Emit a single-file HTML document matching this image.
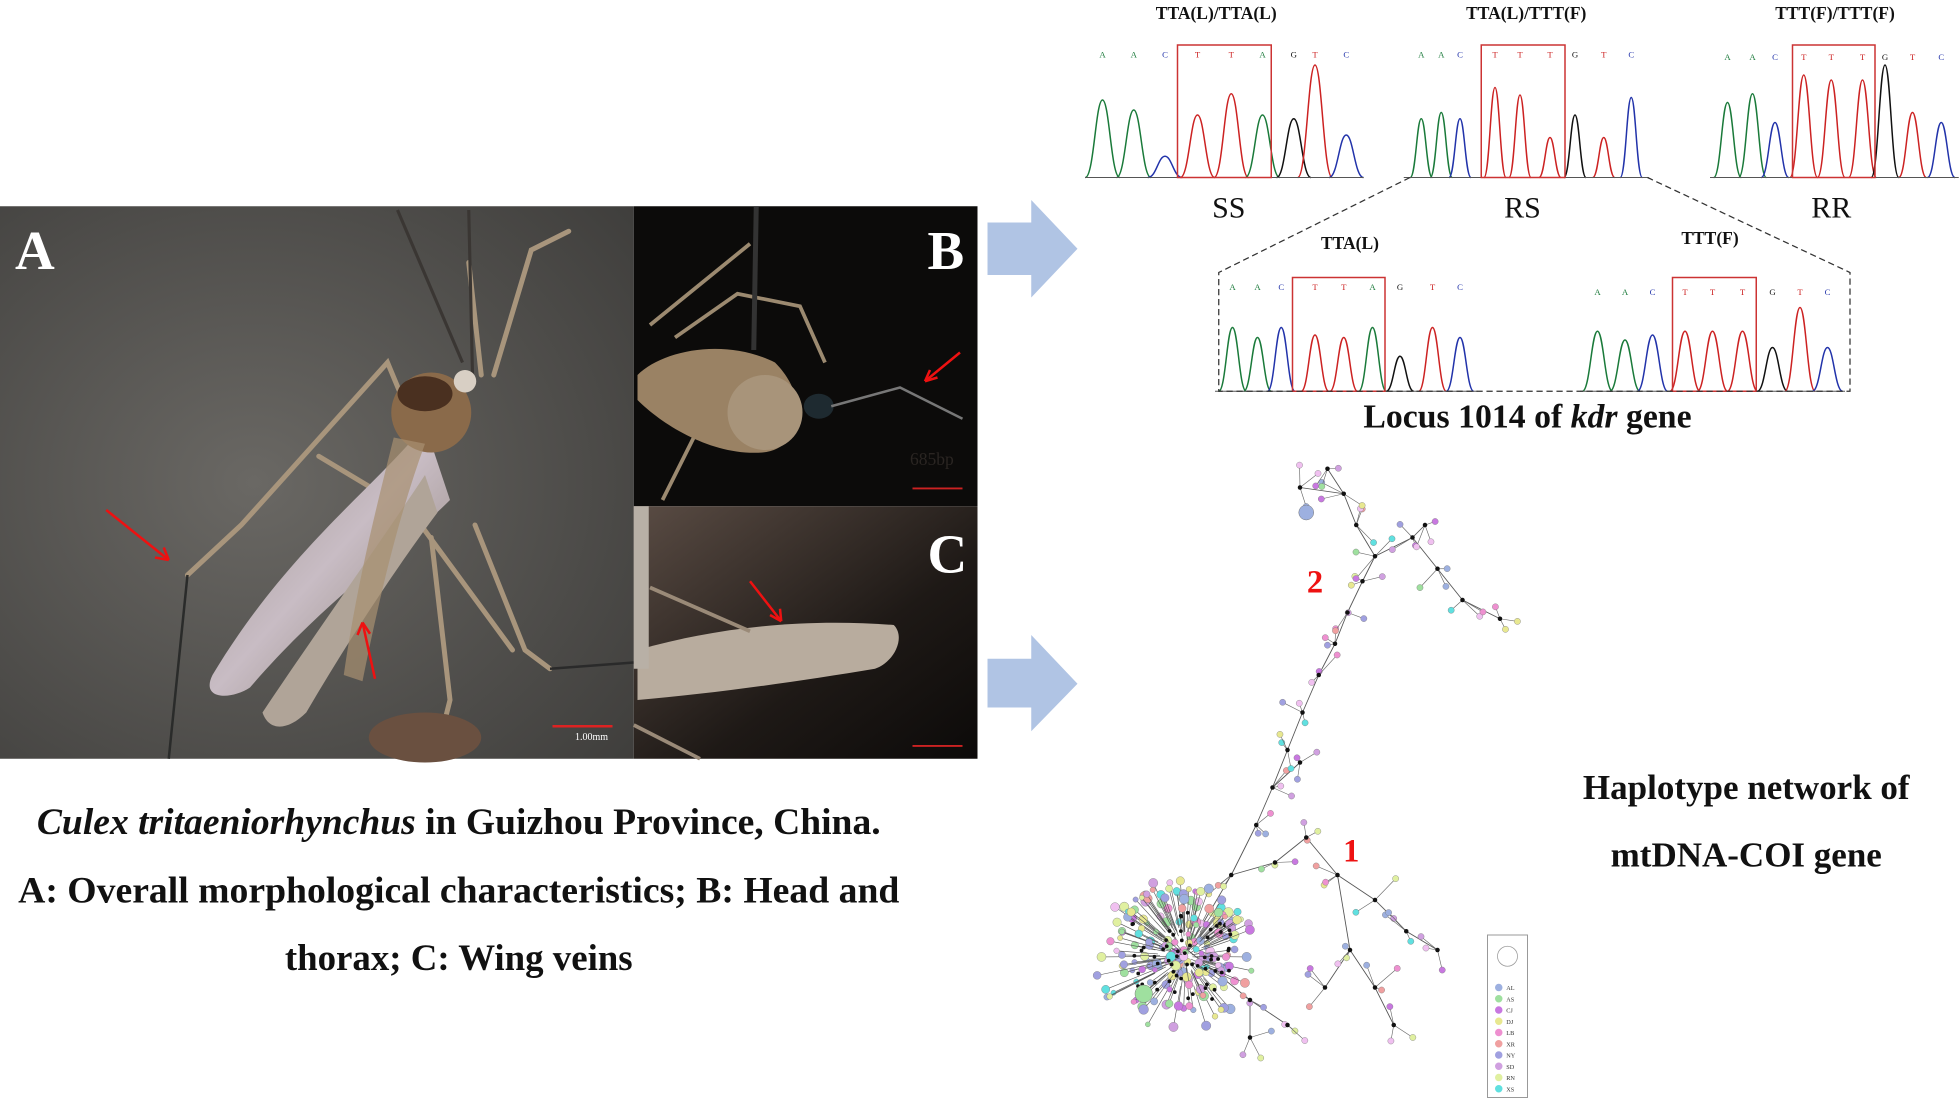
<!DOCTYPE html>
<html><head><meta charset="utf-8"><style>
html,body{margin:0;padding:0;background:#fff}
svg{display:block}
text{font-family:"Liberation Serif",serif}
</style></head><body>
<svg id="s" width="1960" height="1100" viewBox="0 0 1568 880" xmlns="http://www.w3.org/2000/svg">
<defs>
<radialGradient id="ga" cx="0.4" cy="0.5" r="0.8"><stop offset="0" stop-color="#6a6864"/><stop offset="1" stop-color="#3e3d3b"/></radialGradient>
<linearGradient id="gc" x1="0" y1="0" x2="1" y2="1"><stop offset="0" stop-color="#5a4c44"/><stop offset="0.6" stop-color="#1e1916"/><stop offset="1" stop-color="#0c0a09"/></linearGradient>
<linearGradient id="wing" x1="0" y1="0" x2="1" y2="1"><stop offset="0" stop-color="#9a9088"/><stop offset="0.5" stop-color="#c8bcc4"/><stop offset="1" stop-color="#8a7e72"/></linearGradient>
</defs>
<!-- Panel A -->
<rect x="0" y="165" width="507" height="442" fill="url(#ga)"/>
<g stroke="#a8957c" stroke-width="4" fill="none" stroke-linecap="round">
<path d="M150 460 L193 420 L310 290 L335 350 L345 380"/>
<path d="M255 365 L330 410"/>
<path d="M385 300 L375 210"/>
<path d="M395 300 L425 200 L455 185"/>
<path d="M380 420 L420 520 L440 535"/>
<path d="M345 430 L360 560 L350 600"/>
<path d="M322 400 L410 520"/>
</g>
<path d="M150 460 L135 607" stroke="#2a2b2a" stroke-width="2" fill="none"/>
<path d="M378 300 L375 168 M370 290 L318 168" stroke="#3a3633" stroke-width="2.5" fill="none"/>
<path d="M440 535 L507 530" stroke="#2a2a2a" stroke-width="2"/>
<path d="M340 340 C300 390 230 440 170 540 C160 560 185 560 200 550 C260 480 320 440 360 400 Z" fill="url(#wing)"/>
<path d="M340 380 C300 440 250 510 210 570 C215 585 230 585 245 570 C280 510 320 450 350 410 Z" fill="#b0a498"/>
<ellipse cx="345" cy="330" rx="32" ry="32" fill="#8a6a4a"/>
<ellipse cx="340" cy="315" rx="22" ry="14" fill="#4a3020"/>
<circle cx="372" cy="305" r="9" fill="#d8cfc4"/>
<path d="M315 350 C300 410 285 470 275 540 L290 545 C305 470 320 410 340 355 Z" fill="#a89070" opacity="0.7"/>
<ellipse cx="340" cy="590" rx="45" ry="20" fill="#6a5040"/>
<text x="12" y="215" font-size="44" font-weight="bold" fill="#fff">A</text>
<rect x="442" y="580" width="48" height="2" fill="#d22"/>
<text x="460" y="592" font-size="8" fill="#fff">1.00mm</text>
<path d="M85 408 L135 448" stroke="#e11" stroke-width="2"/><path d="M135 448 L124 446 M135 448 L131 438" stroke="#e11" stroke-width="2"/>
<path d="M300 543 L290 498" stroke="#e11" stroke-width="2"/><path d="M290 498 L286 508 M290 498 L296 507" stroke="#e11" stroke-width="2"/>
<!-- Panel B -->
<rect x="507" y="165" width="275" height="240" fill="#0c0b0a"/>
<path d="M520 260 L600 195 M540 270 L590 235 L640 245 L660 290 M560 340 L530 400" stroke="#9c8a70" stroke-width="3" fill="none"/>
<line x1="605" y1="165" x2="603" y2="280" stroke="#333" stroke-width="4"/>
<path d="M510 300 C530 280 580 270 620 290 C650 320 640 360 610 362 C570 365 530 340 510 320 Z" fill="#9a8264"/>
<ellipse cx="612" cy="330" rx="30" ry="30" fill="#a8947a"/>
<ellipse cx="655" cy="325" rx="12" ry="10" fill="#1e2a30"/>
<path d="M665 325 L720 310 L770 335" stroke="#777" stroke-width="2" fill="none"/>
<text x="742" y="215" font-size="44" font-weight="bold" fill="#fff">B</text>
<path d="M768 282 L740 305" stroke="#e11" stroke-width="2"/><path d="M740 305 L750 302 M740 305 L744 296" stroke="#e11" stroke-width="2"/>
<text x="728" y="372" font-size="14" fill="#2a2522">685bp</text>
<rect x="730" y="390" width="40" height="1.5" fill="#c22"/>
<!-- Panel C -->
<rect x="507" y="405" width="275" height="202" fill="url(#gc)"/>
<path d="M510 520 C580 500 650 495 715 500 C725 510 715 530 700 535 C640 545 570 555 510 560 Z" fill="#b8ac9e"/>
<path d="M520 470 L600 505 M507 580 L560 607" stroke="#9a8a78" stroke-width="3"/>
<rect x="507" y="405" width="12" height="130" fill="#b8b0a6"/>
<text x="742" y="458" font-size="44" font-weight="bold" fill="#fff">C</text>
<path d="M600 465 L625 497" stroke="#e11" stroke-width="2"/><path d="M625 497 L616 492 M625 497 L624 487" stroke="#e11" stroke-width="2"/>
<rect x="730" y="596" width="40" height="1.5" fill="#c22"/>
<!-- arrows -->
<polygon points="790,178 825,178 825,160 862,199 825,238 825,220 790,220" fill="#b0c4e4"/>
<polygon points="790,527 825,527 825,508 862,547 825,585 825,566 790,566" fill="#b0c4e4"/>
<!-- caption -->
<g font-size="29.5" font-weight="bold" text-anchor="middle" fill="#111">
<text x="367" y="667" textLength="675" lengthAdjust="spacingAndGlyphs"><tspan font-style="italic">Culex tritaeniorhynchus</tspan> in Guizhou Province, China.</text>
<text x="367" y="722" textLength="705" lengthAdjust="spacingAndGlyphs">A: Overall morphological characteristics; B: Head and</text>
<text x="367" y="776">thorax; C: Wing veins</text>
</g>
<!-- chromatogram labels -->
<g font-size="14" font-weight="bold" text-anchor="middle" fill="#111">
<text x="973" y="15">TTA(L)/TTA(L)</text>
<text x="1221" y="15">TTA(L)/TTT(F)</text>
<text x="1468" y="15">TTT(F)/TTT(F)</text>
<text x="1080" y="199">TTA(L)</text>
<text x="1368" y="195">TTT(F)</text>
</g>
<g font-size="24" text-anchor="middle" fill="#111">
<text x="983" y="174">SS</text><text x="1218" y="174">RS</text><text x="1465" y="174">RR</text>
</g>
<text x="1222" y="342" font-size="27" font-weight="bold" text-anchor="middle" fill="#111">Locus 1014 of <tspan font-style="italic">kdr</tspan> gene</text>
<g id="chroma"></g>
<path d="M1128 142 L975 218 L975 313 L1480 313 L1480 218 L1318 142" stroke="#333" stroke-width="1" stroke-dasharray="5,3" fill="none"/>
<!-- network -->
<g id="net"></g>
<text x="1052" y="474" font-size="26" font-weight="bold" fill="#e11" text-anchor="middle">2</text>
<text x="1081" y="689" font-size="26" font-weight="bold" fill="#e11" text-anchor="middle">1</text>
<g font-size="28" font-weight="bold" text-anchor="middle" fill="#111">
<text x="1397" y="639">Haplotype network of</text>
<text x="1397" y="693">mtDNA-COI gene</text>
</g>
<rect x="1190" y="748" width="32" height="130" fill="#fff" stroke="#999" stroke-width="0.8"/>
<circle cx="1206" cy="765" r="8" fill="none" stroke="#999" stroke-width="0.6"/>
<g id="leg"></g>
</svg>
<script>
var NS="http://www.w3.org/2000/svg";
function el(p,t,a){var e=document.createElementNS(NS,t);for(var k in a)e.setAttribute(k,a[k]);p.appendChild(e);return e;}
var col={A:"#1a7a3a",C:"#2233aa",G:"#111",T:"#cc2222"};
var ch=document.getElementById("chroma");
function panel(xs,seq,tops,box,yl,base,ytop,fs){
 for(var i=0;i<xs.length;i++){var x=xs[i],t=tops[i],w=(xs[1]-xs[0])*0.55;
  el(ch,"path",{d:"M"+(x-w)+" "+base+" C"+(x-w/2)+" "+base+" "+(x-w/2.5)+" "+t+" "+x+" "+t+" C"+(x+w/2.5)+" "+t+" "+(x+w/2)+" "+base+" "+(x+w)+" "+base,stroke:col[seq[i]],"stroke-width":1.2,fill:"none"});
  var tx=el(ch,"text",{x:x,y:yl,"font-size":fs,"text-anchor":"middle",fill:col[seq[i]],"font-family":"Liberation Sans,sans-serif"});tx.textContent=seq[i];}
 el(ch,"line",{x1:xs[0]-14,y1:base,x2:xs[xs.length-1]+14,y2:base,stroke:"#555","stroke-width":0.8});
 el(ch,"rect",{x:box[0],y:ytop,width:box[1]-box[0],height:base-ytop,fill:"none",stroke:"#c33","stroke-width":1.2});
}
panel([882,907,932,958,985,1010,1035,1052,1077],"AACTTAGTC",[80,88,125,92,75,92,95,52,108],[942,1017],46,142,36,7);
panel([1137,1153,1168,1196,1216,1240,1260,1283,1305],"AACTTTGTC",[95,90,95,70,76,110,92,110,78],[1185,1252],46,142,36,7);
panel([1382,1402,1420,1443,1465,1490,1508,1530,1553],"AACTTTGTC",[82,75,98,60,64,64,52,90,98],[1434,1500],48,142,36,7);
panel([986,1006,1025,1052,1075,1098,1120,1146,1168],"AACTTAGTC",[262,270,262,268,270,262,285,262,270],[1034,1108],232,313,222,7);
panel([1278,1300,1322,1348,1370,1394,1418,1440,1462],"AACTTTGTC",[265,272,268,265,265,265,278,246,278],[1338,1405],236,313,222,7);
var seed=7;function r(){seed=(seed*16807)%2147483647;return seed/2147483647;}
var net=document.getElementById("net");
var pal=["#9db0e0","#9fe09f","#c878e0","#e8e890","#ee90d0","#f0a0a0","#a0a0e0","#d0a0e0","#e0f0a0","#60e0e0","#f0c0f0"];
// nodes: [x,y,parent]
var N=[[950,760,-1],[985,700,0],[1005,660,1],[1018,630,2],[1030,600,3],[1042,570,4],[1055,540,5],[1068,515,6],[1078,490,7],[1090,465,8],[1100,445,9],
[1085,420,10],[1075,395,11],[1062,375,12],[1040,390,12],[1130,430,10],[1150,455,15],[1170,480,16],[1200,495,17],[1140,420,15],
[1020,690,1],[1045,670,20],[1070,700,21],[1100,720,22],[1125,745,23],[1150,760,24],[1080,760,22],[1060,790,26],[1100,790,26],[1115,820,28],
[1000,800,0],[1030,820,30],[1000,830,30],[980,740,0],[1040,610,3]];
N.forEach(function(p){if(p[2]>=0){var q=N[p[2]];el(net,"line",{x1:p[0],y1:p[1],x2:q[0],y2:q[1],stroke:"#555","stroke-width":0.7});}});
N.forEach(function(p,i){if(i==0)return;for(var k=0;k<3;k++){var x=p[0]+(r()-0.5)*36,y=p[1]+(r()-0.5)*36;
 el(net,"line",{x1:p[0],y1:p[1],x2:x,y2:y,stroke:"#666","stroke-width":0.5});
 el(net,"circle",{cx:x,cy:y,r:2.5,fill:pal[Math.floor(r()*pal.length)],stroke:"#777","stroke-width":0.3});}
 el(net,"circle",{cx:p[0],cy:p[1],r:1.8,fill:"#111"});});
for(var k=0;k<200;k++){var ang=r()*6.283,d=Math.pow(r(),0.7)*65;var x=940+Math.cos(ang)*d,y=765+Math.sin(ang)*d*0.95;
 el(net,"line",{x1:945+Math.cos(ang)*d*0.4,y1:765+Math.sin(ang)*d*0.4,x2:x,y2:y,stroke:"#555","stroke-width":0.5});
 el(net,"circle",{cx:x,cy:y,r:2+r()*2,fill:pal[Math.floor(r()*pal.length)],stroke:"#777","stroke-width":0.3});}
for(var k=0;k<60;k++){el(net,"circle",{cx:945+(r()-0.5)*80,cy:765+(r()-0.5)*70,r:1.5,fill:"#111"});}
el(net,"circle",{cx:915,cy:795,r:7,fill:"#9fe09f",stroke:"#777","stroke-width":0.4});
el(net,"circle",{cx:1045,cy:410,r:6,fill:"#9db0e0",stroke:"#777","stroke-width":0.4});
var lg=document.getElementById("leg"),nm=["AL","AS","CJ","DJ","LB","XR","NY","SD","RN","XS"];
for(var i=0;i<10;i++){el(lg,"circle",{cx:1199,cy:790+i*9,r:3,fill:pal[i]});var t=el(lg,"text",{x:1205,y:792+i*9,"font-size":5,fill:"#333"});t.textContent=nm[i];}
</script>
</body></html>
